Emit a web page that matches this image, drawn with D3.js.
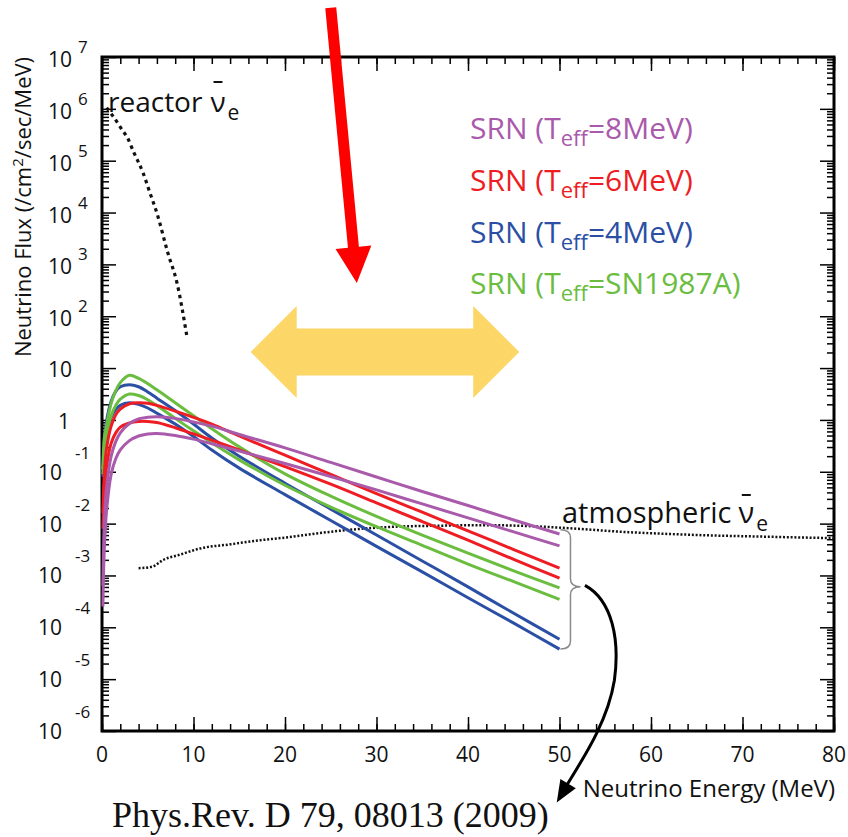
<!DOCTYPE html>
<html>
<head>
<meta charset="utf-8">
<script src="https://cdn.jsdelivr.net/npm/d3@7"></script>
<style>
  html, body { margin: 0; padding: 0; background: #fff; }
  svg { display: block; }
  text { font-family: "Open Sans", "Noto Sans", sans-serif; }
</style>
</head>
<body>
<svg id="chart" width="848" height="837"></svg>
<script>
// ---- Supernova relic neutrino (SRN) spectra: energy grid in MeV ----
const srnEnergy = [0.1, 0.25, 0.5, 1, 1.5, 2, 3, 4, 5, 6, 8, 10, 12, 15, 20, 25, 30, 35, 40, 45, 50];

// log10 of flux (/cm^2/sec/MeV), upper and lower edge of each model band
const srn8MeVHigh  = [-3.2, -2.0, -1.3, -0.7, -0.42, -0.25, -0.07, 0.02, 0.05, 0.06, 0.03, -0.04, -0.12, -0.28, -0.54, -0.82, -1.10, -1.38, -1.65, -1.93, -2.20];
const srn8MeVLow   = [-3.6, -2.5, -1.75, -1.05, -0.75, -0.58, -0.40, -0.31, -0.27, -0.26, -0.30, -0.37, -0.46, -0.60, -0.84, -1.09, -1.35, -1.62, -1.89, -2.16, -2.43];
const srn6MeVHigh  = [-1.8, -1.05, -0.55, -0.12, 0.10, 0.21, 0.31, 0.33, 0.32, 0.28, 0.17, 0.05, -0.08, -0.31, -0.68, -1.05, -1.42, -1.78, -2.14, -2.50, -2.86];
const srn6MeVLow   = [-2.1, -1.4, -0.9, -0.45, -0.25, -0.14, -0.06, -0.03, -0.03, -0.05, -0.15, -0.27, -0.39, -0.58, -0.90, -1.24, -1.60, -1.96, -2.32, -2.69, -3.05];
const srn4MeVHigh  = [-0.95, -0.4, -0.02, 0.36, 0.55, 0.64, 0.68, 0.64, 0.54, 0.42, 0.18, -0.08, -0.35, -0.70, -1.22, -1.72, -2.22, -2.72, -3.22, -3.73, -4.23];
const srn4MeVLow   = [-1.1, -0.65, -0.3, 0.05, 0.2, 0.28, 0.33, 0.30, 0.23, 0.13, -0.08, -0.32, -0.58, -0.93, -1.44, -1.94, -2.44, -2.93, -3.43, -3.92, -4.42];
const srn1987AHigh = [-0.95, -0.35, -0.1, 0.32, 0.56, 0.72, 0.86, 0.80, 0.70, 0.58, 0.33, 0.08, -0.17, -0.52, -1.04, -1.47, -1.86, -2.22, -2.57, -2.91, -3.24];
const srn1987ALow  = [-1.05, -0.6, -0.3, 0.08, 0.28, 0.40, 0.50, 0.47, 0.39, 0.28, 0.03, -0.21, -0.44, -0.77, -1.26, -1.68, -2.06, -2.42, -2.78, -3.12, -3.46];

// ---- Reactor anti-nu_e background ----
const reactorEnergy  = [0.5, 1.2, 2.3, 2.7, 3.5, 4.5, 5.2, 6.0, 7.2, 8.2, 9.25];
const reactorLogFlux = [6.02, 5.86, 5.57, 5.47, 5.15, 4.76, 4.40, 3.99, 3.22, 2.64, 1.64];

// ---- Atmospheric anti-nu_e background ----
const atmosEnergy  = [4.0, 5.5, 6.7, 8.5, 10.7, 14, 17.3, 20, 23, 27, 32, 37, 42, 47, 52, 57, 62, 67, 72, 77, 80];
const atmosLogFlux = [-2.86, -2.83, -2.70, -2.60, -2.48, -2.40, -2.32, -2.27, -2.20, -2.12, -2.06, -2.04, -2.03, -2.05, -2.10, -2.16, -2.20, -2.23, -2.25, -2.27, -2.28];

// ---- Axis ticks ----
const xTickValues = [0, 10, 20, 30, 40, 50, 60, 70, 80];
const yDecades = [-6, -5, -4, -3, -2, -1, 0, 1, 2, 3, 4, 5, 6, 7];

// ---- Legend ----
const legendTemps = ["8MeV", "6MeV", "4MeV", "SN1987A"];

// ---------------------------------------------------------------------------
const COLORS = { p8: "#a95aab", r6: "#ee1d24", b4: "#2b4fa5", g87: "#6bbd3f" };

const svg = d3.select("#chart");
const x = d3.scaleLinear().domain([0, 80]).range([102, 834]);
const y = d3.scaleLog().domain([1e-6, 1e7]).range([731, 57]);
const yl = v => y(Math.pow(10, v));   // position of a log10 value

// ---- axis ticks (inward on all four sides) ----
const xMinor = d3.range(0, 81, 2);
const yMinor = [];
for (let d = -6; d < 7; d++) for (let k = 2; k <= 9; k++) yMinor.push(k * Math.pow(10, d));
const yMajor = yDecades.map(d => Math.pow(10, d));

function tickLayer(axis, tx, ty) {
  const g = svg.append("g").attr("transform", `translate(${tx},${ty})`).call(axis);
  g.select(".domain").remove();
  g.selectAll(".tick line").attr("stroke", "#000").attr("stroke-width", 1.5);
  g.selectAll(".tick text").remove();
  return g;
}
tickLayer(d3.axisBottom(x).tickValues(xMinor).tickSize(-7), 0, 731);
tickLayer(d3.axisBottom(x).tickValues(xTickValues).tickSize(-14), 0, 731);
tickLayer(d3.axisTop(x).tickValues(xMinor).tickSize(-7), 0, 57);
tickLayer(d3.axisTop(x).tickValues(xTickValues).tickSize(-14), 0, 57);
tickLayer(d3.axisLeft(y).tickValues(yMinor).tickSize(-7), 102, 0);
tickLayer(d3.axisLeft(y).tickValues(yMajor).tickSize(-14), 102, 0);
tickLayer(d3.axisRight(y).tickValues(yMinor).tickSize(-7), 834, 0);
tickLayer(d3.axisRight(y).tickValues(yMajor).tickSize(-14), 834, 0);

// frame
svg.append("rect")
  .attr("x", x(0)).attr("y", y(1e7))
  .attr("width", x(80) - x(0)).attr("height", y(1e-6) - y(1e7))
  .attr("fill", "none").attr("stroke", "#000").attr("stroke-width", 3);

// ---- x tick labels ----
svg.append("g").selectAll("text").data(xTickValues).join("text")
  .attr("x", d => x(d)).attr("y", 762)
  .attr("text-anchor", "middle").attr("font-size", 21).attr("fill", "#111")
  .text(d => d);

// ---- y tick labels (10 with exponent) ----
const yLab = svg.append("g").attr("fill", "#111");
yDecades.forEach(d => {
  const ty = yl(d);
  if (d >= 2) {
    yLab.append("text").attr("x", 72).attr("y", ty + 10).attr("text-anchor", "end").attr("font-size", 21).text("10");
    yLab.append("text").attr("x", 78).attr("y", ty - 4).attr("font-size", 17).text(d);
  } else if (d === 1) {
    yLab.append("text").attr("x", 72).attr("y", ty + 9).attr("text-anchor", "end").attr("font-size", 21).text("10");
  } else if (d === 0) {
    yLab.append("text").attr("x", 70).attr("y", ty + 9).attr("text-anchor", "end").attr("font-size", 21).text("1");
  } else {
    yLab.append("text").attr("x", 62).attr("y", ty + 8).attr("text-anchor", "end").attr("font-size", 21).text("10");
    yLab.append("text").attr("x", 75).attr("y", ty - 13).attr("font-size", 17).text("-" + Math.abs(d));
  }
});

// ---- axis titles ----
const yTitle = svg.append("text")
  .attr("transform", "translate(31,207) rotate(-90)")
  .attr("text-anchor", "middle").attr("font-size", 22).attr("fill", "#111");
yTitle.append("tspan").text("Neutrino Flux (/cm");
yTitle.append("tspan").attr("dy", -8).attr("font-size", 15).text("2");
yTitle.append("tspan").attr("dy", 8).text("/sec/MeV)");

svg.append("text").attr("x", 835).attr("y", 797)
  .attr("text-anchor", "end").attr("font-size", 24).attr("fill", "#111")
  .text("Neutrino Energy (MeV)");

svg.append("text").attr("x", 112).attr("y", 827)
  .style("font-family", "'Liberation Serif', 'Times New Roman', serif")
  .attr("font-size", 36).attr("fill", "#111")
  .text("Phys.Rev. D 79, 08013 (2009)");

// ---- curves ----
const lineFor = curve => d3.line()
  .x(d => x(d[0]))
  .y(d => yl(d[1]))
  .curve(curve);
const bgLine = lineFor(d3.curveMonotoneX);
const srnLine = lineFor(d3.curveCatmullRom.alpha(0.5));

const plot = svg.append("g");

// background dotted curves
plot.append("path")
  .datum(d3.zip(atmosEnergy, atmosLogFlux))
  .attr("d", bgLine).attr("fill", "none")
  .attr("stroke", "#111").attr("stroke-width", 2.5).attr("stroke-dasharray", "2,1.8");

plot.append("path")
  .datum(d3.zip(reactorEnergy, reactorLogFlux))
  .attr("d", bgLine).attr("fill", "none")
  .attr("stroke", "#111").attr("stroke-width", 3.2).attr("stroke-dasharray", "3.5,4");

const srnSeries = [
  { values: srn4MeVHigh,  color: COLORS.b4 },
  { values: srn4MeVLow,   color: COLORS.b4 },
  { values: srn1987AHigh, color: COLORS.g87 },
  { values: srn1987ALow,  color: COLORS.g87 },
  { values: srn6MeVHigh,  color: COLORS.r6 },
  { values: srn6MeVLow,   color: COLORS.r6 },
  { values: srn8MeVHigh,  color: COLORS.p8 },
  { values: srn8MeVLow,   color: COLORS.p8 }
];
plot.selectAll("path.srn").data(srnSeries).join("path")
  .attr("class", "srn")
  .attr("d", s => srnLine(d3.zip(srnEnergy, s.values)))
  .attr("fill", "none").attr("stroke", s => s.color)
  .attr("stroke-width", 3).attr("stroke-linejoin", "round");

// ---- curve labels with anti-neutrino symbol ----
function nuBarLabel(word, x0, baseline, size, subSize, barY, gap) {
  const t = svg.append("text").attr("x", x0).attr("y", baseline)
    .attr("font-size", size).attr("fill", "#111").text(word);
  const w = t.node().getComputedTextLength();
  const nx = x0 + w + gap;
  const nu = svg.append("text").attr("x", nx).attr("y", baseline)
    .attr("font-size", size).attr("fill", "#111").text("\u03bd");
  const nw = nu.node().getComputedTextLength();
  svg.append("line")
    .attr("x1", nx + nw / 2 - 4.5).attr("x2", nx + nw / 2 + 4.5)
    .attr("y1", barY).attr("y2", barY)
    .attr("stroke", "#111").attr("stroke-width", 2);
  svg.append("text").attr("x", nx + nw + 2).attr("y", baseline + 8)
    .attr("font-size", subSize).attr("fill", "#111").text("e");
}
nuBarLabel("reactor", 108, 112, 28, 21, 82, 8);
nuBarLabel("atmospheric", 562, 523, 29, 21, 495, 7);

// ---- legend ----
const legendColors = [COLORS.p8, COLORS.r6, COLORS.b4, COLORS.g87];
legendTemps.forEach((t, i) => {
  const txt = svg.append("text").attr("x", 470).attr("y", yl(5.42 - i))
    .attr("font-size", 30).attr("fill", legendColors[i]);
  txt.append("tspan").text("SRN (T");
  txt.append("tspan").attr("dy", 7).attr("font-size", 22).text("eff");
  txt.append("tspan").attr("dy", -7).text("=" + t + ")");
});

// ---- annotations ----
// yellow double-headed arrow spanning the observation window
(function () {
  const xl = x(16.25), xr = x(45.6), yc = yl(1.31);
  const hl = 46, hh = 46, sh = 23.5;
  const pts = [
    [xl, yc], [xl + hl, yc - hh], [xl + hl, yc - sh], [xr - hl, yc - sh], [xr - hl, yc - hh],
    [xr, yc], [xr - hl, yc + hh], [xr - hl, yc + sh], [xl + hl, yc + sh], [xl + hl, yc + hh]
  ];
  svg.append("path").attr("d", d3.line()(pts) + "Z").attr("fill", "#fcd666");
})();

// red arrow pointing down into the window
(function () {
  const tail = [x(25.0), yl(7.95)], tip = [x(27.85), yl(2.64)];
  const dx = tip[0] - tail[0], dy = tip[1] - tail[1], L = Math.hypot(dx, dy);
  const u = [dx / L, dy / L], n = [u[1], -u[0]];
  const headLen = 36, headW = 18, shaftW = 5.5;
  const b = [tip[0] - u[0] * headLen, tip[1] - u[1] * headLen];
  const p = (o, s) => [o[0] + n[0] * s, o[1] + n[1] * s];
  const pts = [p(tail, shaftW), p(b, shaftW), p(b, headW), tip, p(b, -headW), p(b, -shaftW), p(tail, -shaftW)];
  svg.append("path").attr("d", d3.line()(pts) + "Z").attr("fill", "#ff0000");
})();

// brace grouping the spectra at 50 MeV
(function () {
  const xl = x(50.1), xs = x(51.2), xt = x(52.3);
  const yt = yl(-2.12), ym = yl(-3.22), yb = yl(-4.42);
  const d = `M${xl},${yt} Q${xs},${yt} ${xs},${yt + 8} L${xs},${ym - 8} Q${xs},${ym} ${xt},${ym}` +
            ` Q${xs},${ym} ${xs},${ym + 8} L${xs},${yb - 8} Q${xs},${yb} ${xl},${yb}`;
  svg.append("path").attr("d", d).attr("fill", "none").attr("stroke", "#8a8a8a").attr("stroke-width", 1.5);
})();

// curved black arrow from the brace to the reference
(function () {
  const P = (e, v) => [x(e), yl(v)];
  const s = P(52.78, -3.19), c1 = P(55.8, -3.48), c2 = P(56.6, -4.25), m = P(56.0, -5.02);
  const c3 = P(55.3, -5.79), c4 = P(52.8, -6.47), e = P(50.71, -7.07);
  const tip = P(49.7, -7.38);
  svg.append("path")
    .attr("d", `M${s} C${c1} ${c2} ${m} C${c3} ${c4} ${e}`)
    .attr("fill", "none").attr("stroke", "#000").attr("stroke-width", 3);
  const dx = tip[0] - c4[0], dy = tip[1] - c4[1], L = Math.hypot(dx, dy);
  const u = [dx / L, dy / L], n = [u[1], -u[0]];
  const hl = 22, hw = 9;
  const b = [tip[0] - u[0] * hl, tip[1] - u[1] * hl];
  svg.append("path")
    .attr("d", d3.line()([tip, [b[0] + n[0] * hw, b[1] + n[1] * hw], [b[0] - n[0] * hw, b[1] - n[1] * hw]]) + "Z")
    .attr("fill", "#000");
})();
</script>
</body>
</html>
